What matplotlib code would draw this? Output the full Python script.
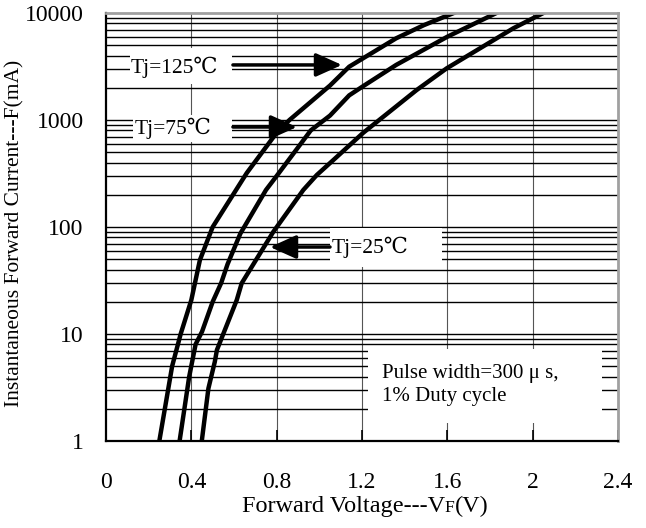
import matplotlib
matplotlib.use("Agg")
import matplotlib.pyplot as plt
import numpy as np
from matplotlib.patches import Rectangle

plt.rcParams['font.family'] = ['Liberation Serif', 'DejaVu Serif', 'Noto Sans CJK SC']

# Data
v_125 = [0.25, 0.31, 0.35, 0.40, 0.44, 0.50, 0.66, 0.80, 0.86, 1.05, 1.14, 1.36, 1.49, 1.63]
i_125 = [1, 5, 10, 20.8, 49, 100, 320, 760, 1000, 2100, 3150, 5800, 7700, 10000]

v_75 = [0.345, 0.39, 0.42, 0.45, 0.50, 0.54, 0.57, 0.63, 0.75, 0.80, 0.96, 1.05, 1.14, 1.21, 1.36, 1.60, 1.83]
i_75 = [1, 4, 8, 10.5, 20, 30, 45, 87, 222, 300, 800, 1100, 1700, 2100, 3270, 6000, 10000]

v_25 = [0.449, 0.48, 0.51, 0.52, 0.613, 0.636, 0.784, 0.925, 0.988, 1.066, 1.206, 1.456, 1.597, 1.909, 2.05]
i_25 = [1, 3.1, 5.5, 7.1, 20.8, 29.8, 90, 222, 306, 423, 760, 1905, 3040, 7190, 10000]

x_ticks = [0, 0.4, 0.8, 1.2, 1.6, 2.0, 2.4]
x_ticklabels = ["0", "0.4", "0.8", "1.2", "1.6", "2", "2.4"]
y_ticks = [1, 10, 100, 1000, 10000]
y_ticklabels = ["1", "10", "100", "1000", "10000"]

labels = ["Tj=125\u2103", "Tj=75\u2103", "Tj=25\u2103"]
note = ["Pulse width=300 \u03bc s,", "1% Duty cycle"]

fig = plt.figure(figsize=(6.46, 5.28), dpi=100)
ax = fig.add_axes([106/646, 87/528, 512/646, 428/528])
ax.set_yscale('log')
ax.set_xlim(0, 2.4)
ax.set_ylim(1, 10000)

# grid
for xv in x_ticks[1:-1]:
    ax.axvline(xv, color='#555555', lw=0.8, zorder=1)
for dec in [1, 10, 100, 1000]:
    for m in range(2, 10):
        ax.axhline(dec*m, color='black', lw=1.0, zorder=1)
    if dec > 1:
        ax.axhline(dec, color='black', lw=1.0, zorder=1)

# curves
for v, i in [(v_125, i_125), (v_75, i_75), (v_25, i_25)]:
    ax.plot(v, i, color='black', lw=3.2, solid_joinstyle='round', zorder=4)

fs_tick = 17
fs_lab = 15.5

def wbox(x0, x1, y0, y1):
    ax.add_patch(Rectangle((x0, y0), x1-x0, y1-y0, facecolor='white', edgecolor='none', zorder=2))

wbox(0.1125, 0.59, 2170, 4710)
wbox(0.126, 0.59, 623, 1114)
wbox(1.05, 1.575, 42, 98)
wbox(1.228, 2.325, 1.47, 7.2)

ax.text(0.319, 3130, labels[0], ha='center', va='center', fontsize=fs_lab, zorder=5)
ax.text(0.314, 842, labels[1], ha='center', va='center', fontsize=fs_lab, zorder=5)
ax.text(1.059, 65, labels[2], ha='left', va='center', fontsize=fs_lab, zorder=5)
ax.text(1.294, 4.32, note[0], ha='left', va='center', fontsize=15, zorder=5)
ax.text(1.294, 2.58, note[1], ha='left', va='center', fontsize=15, zorder=5)

ap = dict(arrowstyle='-|>,head_length=1.0,head_width=0.45', mutation_scale=16, lw=2.5,
          color='black', shrinkA=0, shrinkB=0)
ax.annotate('', xy=(1.106, 3270), xytext=(0.595, 3270), arrowprops=ap, zorder=5)
ax.annotate('', xy=(0.895, 860), xytext=(0.595, 860), arrowprops=ap, zorder=5)
ax.annotate('', xy=(0.769, 65), xytext=(1.05, 65), arrowprops=ap, zorder=5)

ax.set_xticks(x_ticks)
ax.set_xticklabels(x_ticklabels)
ax.set_yticks(y_ticks)
ax.set_yticklabels(y_ticklabels)
ax.minorticks_off()
ax.tick_params(axis='x', direction='in', length=8, width=1.2, pad=22, labelsize=fs_tick)
ax.tick_params(axis='y', direction='in', length=0, pad=16, labelsize=fs_tick)

for s in ['left', 'bottom']:
    ax.spines[s].set_linewidth(1.6)
    ax.spines[s].set_color('black')
for s in ['top', 'right']:
    ax.spines[s].set_linewidth(2.0)
    ax.spines[s].set_color('#a0a0a0')
for s in ax.spines.values():
    s.set_zorder(6)

ax.set_ylabel("Instantaneous Forward Current---F(mA)", fontsize=15.5)
ax.yaxis.set_label_coords((24-106)/512, 0.484)

# x label with small-cap F
fig.canvas.draw()
r = fig.canvas.get_renderer()
fsx = 17.5
base = (528-512)/528
t1 = fig.text(0, base, "Forward Voltage---V", fontsize=fsx, va='baseline', ha='left')
t2 = fig.text(0, base, "F", fontsize=fsx*0.72, va='baseline', ha='left')
t3 = fig.text(0, base, "(V)", fontsize=fsx, va='baseline', ha='left')
w1 = t1.get_window_extent(r).width
w2 = t2.get_window_extent(r).width
w3 = t3.get_window_extent(r).width
total = w1 + w2 + w3
x0 = 365 - total/2
t1.set_x(x0/646)
t2.set_x((x0+w1)/646)
t3.set_x((x0+w1+w2)/646)

fig.savefig("out.png", dpi=100, facecolor='white')
